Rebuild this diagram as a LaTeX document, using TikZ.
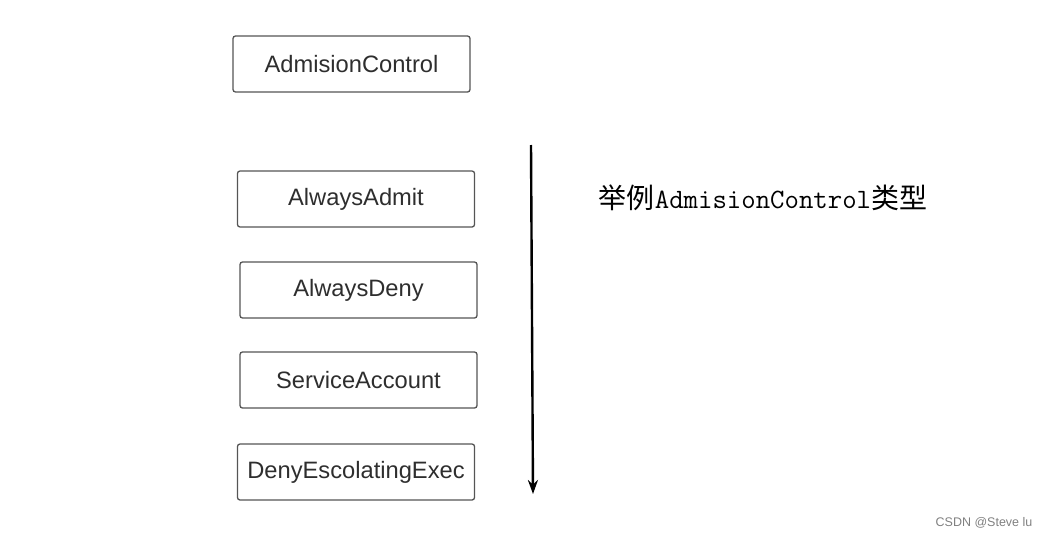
\documentclass[tikz,border=0pt]{standalone}
\usepackage{fontspec}
\setmainfont{Liberation Sans}
\newfontfamily\cjk{Noto Sans CJK SC}
\usetikzlibrary{arrows.meta}
\definecolor{boxline}{HTML}{555555}
\definecolor{boxtext}{HTML}{2E2E2E}
\tikzset{
    ctrlbox/.style={draw=boxline, line width=1.3pt, rounded corners=2.5pt,
        minimum width=237pt, minimum height=56pt, inner sep=0pt,
        text=boxtext, font=\fontsize{23.7}{26}\selectfont},
}
\begin{document}
\begin{tikzpicture}[x=1pt, y=-1pt]
    \useasboundingbox (0,0) rectangle (1049,538);

    % Cajas
    \node[ctrlbox] (admctrl) at (351.5,64) {AdmisionControl};
    \node[ctrlbox] (alwadmit) at (356,199) {AlwaysAdmit};
    \node[ctrlbox] (alwdeny) at (358.5,290) {AlwaysDeny};
    \node[ctrlbox] (svcacct) at (358.5,380) {ServiceAccount};
    \node[ctrlbox] (denyexec) at (356,472) {DenyEscolatingExec};

    % Flecha
    \coordinate (arrtop) at (531,145);
    \coordinate (arrbot) at (533,494);
    \draw[-{Stealth[length=14pt, width=10pt]}, line width=2.4pt] (arrtop) -- (arrbot);

    % Textos
    \node (ejemplo) at (763,198) {\fontsize{28}{31}\selectfont\cjk 举例{\ttfamily AdmisionControl}类型};
    \node[text=gray, font=\fontsize{12.5}{14}\selectfont] (marca) at (984,523) {CSDN @Steve lu};
\end{tikzpicture}
\end{document}
